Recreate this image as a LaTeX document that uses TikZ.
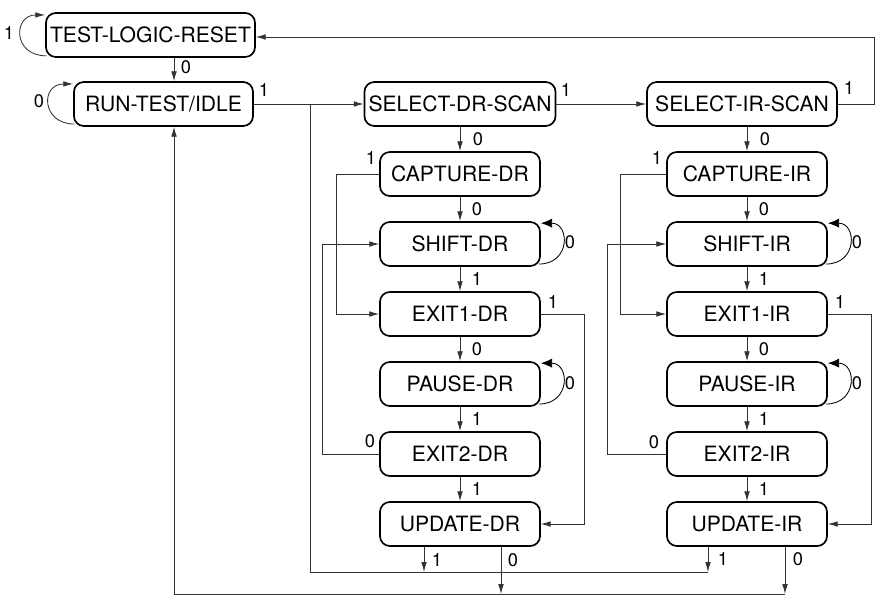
\documentclass[tikz,border=0pt]{standalone}
\usepackage{fontspec}
\setmainfont{TeX Gyre Heros}
\usetikzlibrary{arrows.meta}
\begin{document}
\begin{tikzpicture}[x=0.025cm,y=-0.025cm,
    state/.style={draw,line width=1.2pt,rounded corners=7pt,minimum width=4cm,minimum height=1.1cm,inner sep=0pt,font=\fontsize{15}{18}\selectfont},
    conn/.style={line width=0.6pt,draw=black!80,-{Latex[length=7pt,width=4pt]}},
    wire/.style={line width=0.6pt,draw=black!80},
    selfloop/.style={line width=0.6pt,-{Latex[length=8pt,width=6.5pt]}},
    bit/.style={inner sep=0pt,font=\fontsize{13}{15}\selectfont}]
    \useasboundingbox (0,0) rectangle (888,604);
    % \helpgrid{888}{604}
    \node[state,minimum width=5.225cm] (tlr) at (150.5,35) {TEST-LOGIC-RESET};
    \node[state,minimum width=4.475cm] (rti) at (163.5,104) {RUN-TEST/IDLE};
    \node[state,minimum width=4.775cm] (sdr) at (460,104) {SELECT-DR-SCAN};
    \node[state,minimum width=4.75cm] (sir) at (742,104) {SELECT-IR-SCAN};

    \node[state] (capdr) at (460,174) {CAPTURE-DR};
    \node[state] (shdr) at (460,244) {SHIFT-DR};
    \node[state] (ex1dr) at (460,314) {EXIT1-DR};
    \node[state] (padr) at (460,384) {PAUSE-DR};
    \node[state] (ex2dr) at (460,454) {EXIT2-DR};
    \node[state] (updr) at (460,524) {UPDATE-DR};

    \node[state] (capir) at (747,174) {CAPTURE-IR};
    \node[state] (shir) at (747,244) {SHIFT-IR};
    \node[state] (ex1ir) at (747,314) {EXIT1-IR};
    \node[state] (pair) at (747,384) {PAUSE-IR};
    \node[state] (ex2ir) at (747,454) {EXIT2-IR};
    \node[state] (upir) at (747,524) {UPDATE-IR};

    % bus points
    \coordinate (b0) at (174,594);
    \coordinate (b1) at (501,594);
    \coordinate (b2) at (785,594);
    \coordinate (a0) at (310,572);
    \coordinate (a1) at (424,572);
    \coordinate (a2) at (708,572);

    % top part
    \draw[conn] ([xshift=0.03cm,yshift=0.05cm]tlr.south west) .. controls +(-34,0) and +(-32,0) .. ([yshift=-0.07cm]tlr.north west);
    \draw[conn] ([xshift=0.03cm,yshift=0.07cm]rti.south west) .. controls +(-33,0) and +(-33,0) .. ([yshift=-0.07cm]rti.north west);
    \draw[conn] (tlr.south -| b0) -- (rti.north -| b0);
    \draw[conn] (rti.east) -- (sdr.west);
    \draw[conn] (sdr.east) -- (sir.west);
    \draw[conn] (sir.east) -- ++(37,0) |- ([yshift=-0.05cm]tlr.east);
    \draw[conn] (sdr.south) -- (capdr.north);
    \draw[conn] (sir.south -| capir.north) -- (capir.north);

    % DR column
    \draw[conn] (capdr) -- (shdr);
    \draw[conn] (shdr) -- (ex1dr);
    \draw[conn] (ex1dr) -- (padr);
    \draw[conn] (padr) -- (ex2dr);
    \draw[conn] (ex2dr) -- (updr);
    \draw[conn] (capdr.west) -- ++(-43,0) |- (ex1dr.west);
    \draw[conn] (ex2dr.west) -- ++(-57,0) |- (shdr.west);
    \draw[conn] (ex1dr.east) -- ++(44,0) |- (updr.east);
    \draw[selfloop] ([xshift=-0.05cm,yshift=0.07cm]shdr.south east) .. controls +(32,0) and +(29,0) .. ([yshift=-0.05cm]shdr.north east);
    \draw[selfloop] ([xshift=-0.05cm,yshift=0.07cm]padr.south east) .. controls +(32,0) and +(29,0) .. ([yshift=-0.05cm]padr.north east);

    % IR column
    \draw[conn] (capir) -- (shir);
    \draw[conn] (shir) -- (ex1ir);
    \draw[conn] (ex1ir) -- (pair);
    \draw[conn] (pair) -- (ex2ir);
    \draw[conn] (ex2ir) -- (upir);
    \draw[conn] (capir.west) -- ++(-46,0) |- (ex1ir.west);
    \draw[conn] (ex2ir.west) -- ++(-59,0) |- (shir.west);
    \draw[conn] (ex1ir.east) -- ++(44,0) |- (upir.east);
    \draw[selfloop] ([xshift=-0.05cm,yshift=0.07cm]shir.south east) .. controls +(32,0) and +(29,0) .. ([yshift=-0.05cm]shir.north east);
    \draw[selfloop] ([xshift=-0.05cm,yshift=0.07cm]pair.south east) .. controls +(32,0) and +(29,0) .. ([yshift=-0.05cm]pair.north east);

    % back to select-dr-scan and run-test/idle
    \draw[wire] (rti.east -| a0) -- (a0) -- (a2);
    \draw[conn] (updr.south -| a1) -- (a1);
    \draw[conn] (upir.south -| a2) -- (a2);
    \draw[conn] (b2) -- (b0) -- (rti.south -| b0);
    \draw[conn] (updr.south -| b1) -- (b1);
    \draw[conn] (upir.south -| b2) -- (b2);

    % labels
    \node[bit] (t1) at (9,33) {1};
    \node[bit] (t2) at (186,67) {0};
    \node[bit] (t3) at (39,101) {0};
    \node[bit] (t4) at (264,90) {1};
    \node[bit] (t5) at (566,90) {1};
    \node[bit] (t6) at (849,88) {1};

    \node[bit] (d1) at (478,139) {0};
    \node[bit] (d2) at (371,158) {1};
    \node[bit] (d3) at (477,209) {0};
    \node[bit] (d4) at (570,242) {0};
    \node[bit] (d5) at (477,279) {1};
    \node[bit] (d6) at (553,302) {1};
    \node[bit] (d7) at (477,349) {0};
    \node[bit] (d8) at (570,383) {0};
    \node[bit] (d9) at (477,419) {1};
    \node[bit] (d10) at (370,441) {0};
    \node[bit] (d11) at (477,489) {1};
    \node[bit] (d12) at (437,560) {1};
    \node[bit] (d13) at (513,560) {0};

    \node[bit] (i1) at (765,139) {0};
    \node[bit] (i2) at (657,158) {1};
    \node[bit] (i3) at (764,209) {0};
    \node[bit] (i4) at (857,242) {0};
    \node[bit] (i5) at (764,279) {1};
    \node[bit] (i6) at (840,302) {1};
    \node[bit] (i7) at (764,349) {0};
    \node[bit] (i8) at (857,383) {0};
    \node[bit] (i9) at (764,419) {1};
    \node[bit] (i10) at (654,442) {0};
    \node[bit] (i11) at (764,489) {1};
    \node[bit] (i12) at (723,559) {1};
    \node[bit] (i13) at (798,559) {0};
\end{tikzpicture}
\end{document}
